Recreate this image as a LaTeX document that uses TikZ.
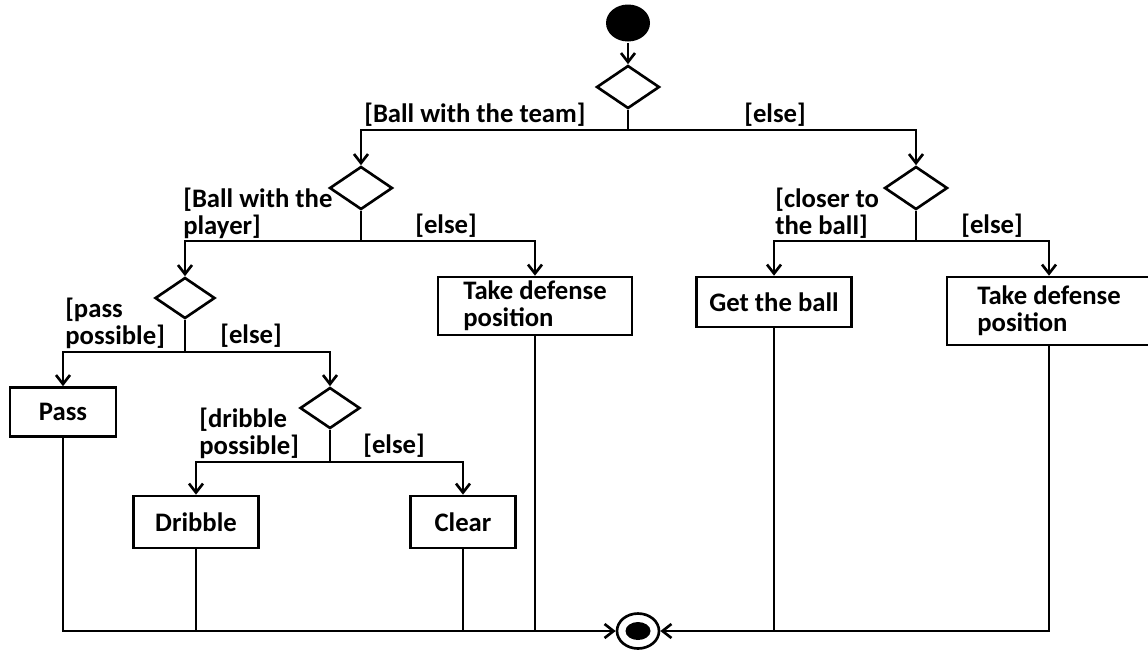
\documentclass[tikz,border=0pt]{standalone}
\usepackage{fontspec}
\setmainfont{Carlito}
\usetikzlibrary{shapes.geometric, arrows.meta, positioning}
\tikzstyle{every node}=[font=\bfseries\fontsize{15.2}{15.4}\selectfont]
\tikzstyle{block}=[draw,fill=white,rectangle,line width=1.5pt,align=left,inner sep=0pt]
\tikzstyle{decision}=[draw,diamond,line width=1.5pt,inner sep=0pt,minimum width=1.26cm,minimum height=0.86cm]
\tikzstyle{guard}=[inner sep=0pt,align=left,anchor=south west]

\begin{document}
\begin{tikzpicture}[x=0.02cm,y=-0.02cm,line width=1.5pt,>={Straight Barb[length=1.8mm,width=2.8mm]}]
      \useasboundingbox (0,0) rectangle (1148,650);
      \node[ellipse,fill=black,minimum width=0.88cm,minimum height=0.74cm,inner sep=0pt] (start) at (628,23) {};
      \node[decision] (D1) at (628,87) {};
      \node[decision] (D2) at (361,188) {};
      \node[decision] (D3) at (916,188) {};
      \node[decision,minimum width=1.2cm,minimum height=0.82cm] (D4) at (185,298) {};
      \node[decision,minimum width=1.2cm,minimum height=0.82cm] (D5) at (330,408) {};
      \node[block,minimum width=3.88cm,minimum height=1.16cm] (defL) at (535,306) {Take defense\\position};
      \node[block,minimum width=3.1cm,minimum height=1.0cm] (get) at (774,302) {Get the ball};
      \node[block,minimum width=4.08cm,minimum height=1.36cm] (defR) at (1049,311) {Take defense\\position};
      \node[block,minimum width=2.12cm,minimum height=0.98cm] (pass) at (63,412) {Pass};
      \node[block,minimum width=2.5cm,minimum height=1.04cm] (dribble) at (196,522) {Dribble};
      \node[block,minimum width=2.1cm,minimum height=1.04cm] (clear) at (463,522) {Clear};
      \node[ellipse,draw,minimum width=0.84cm,minimum height=0.7cm,inner sep=0pt] (final) at (638,631) {};
      \node[ellipse,fill=black,minimum width=0.5cm,minimum height=0.36cm,inner sep=0pt] at (final) {};
      \coordinate (J1) at (628,130);
      \coordinate (J2) at (361,241);
      \coordinate (J3) at (916,241);
      \coordinate (J4) at (185,352);
      \coordinate (J5) at (330,462);
      \node[guard] (gTeam) at (363,128) {[Ball with the team]};
      \node[guard] (gElse1) at (743,128) {[else]};
      \node[guard] (gPlayer) at (182,240) {[Ball with the\\player]};
      \node[guard] (gElse2) at (414,239) {[else]};
      \node[guard] (gCloser) at (774,240) {[closer to\\the ball]};
      \node[guard] (gElse3) at (960,239) {[else]};
      \node[guard] (gPass) at (64,350) {[pass\\possible]};
      \node[guard] (gElse4) at (219,349) {[else]};
      \node[guard] (gDribble) at (198,460) {[dribble\\possible]};
      \node[guard] (gElse5) at (362,459) {[else]};
      \draw[->] (start) -- (D1);
      \draw (D1) -- (J1);
      \draw[->] (J1) -| (D2);
      \draw[->] (J1) -| (D3);
      \draw (D2) -- (J2);
      \draw[->] (J2) -| (D4);
      \draw[->] (J2) -| (defL);
      \draw (D3) -- (J3);
      \draw[->] (J3) -| (get);
      \draw[->] (J3) -| (defR);
      \draw (D4) -- (J4);
      \draw[->] (J4) -| (pass);
      \draw[->] (J4) -| (D5);
      \draw (D5) -- (J5);
      \draw[->] (J5) -| (dribble);
      \draw[->] (J5) -| (clear);
      \draw[->] (pass) |- (final);
      \draw[->] (defR) |- (final);
      \draw (dribble) -- (dribble |- final);
      \draw (clear) -- (clear |- final);
      \draw (defL) -- (defL |- final);
      \draw (get) -- (get |- final);
    \end{tikzpicture}
\end{document}
